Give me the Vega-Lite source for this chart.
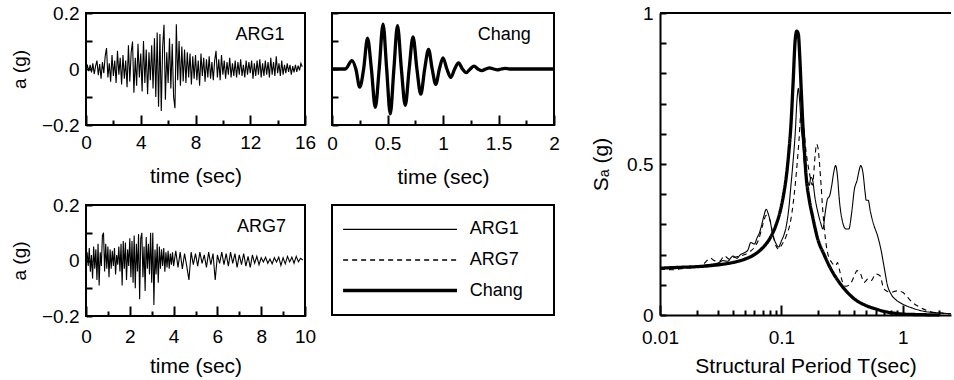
{
  "$schema": "https://vega.github.io/schema/vega-lite/v6.json",
  "autosize": {"type": "pad"},
  "padding": {"left": 10, "top": 4, "right": 0, "bottom": 0},
  "background": "white",
  "config": {
    "font": "Liberation Sans",
    "view": {"stroke": null, "strokeWidth": 0, "strokeOpacity": 0},
    "axis": {
      "grid": false,
      "domain": false,
      "labelFont": "Liberation Sans",
      "titleFont": "Liberation Sans",
      "labelFontSize": 19,
      "titleFontSize": 21,
      "titleFontWeight": "normal",
      "labelColor": "black",
      "titleColor": "black",
      "tickColor": "black",
      "tickWidth": 2,
      "labelFlush": false,
      "labelOverlap": false,
      "labelPadding": 13,
      "titlePadding": 8
    }
  },
  "datasets": {
    "arg1": [
      {"t":0.0,"a":0.000},{"t":0.1,"a":0.012},{"t":0.2,"a":-0.008},{"t":0.3,"a":0.015},{"t":0.4,"a":-0.012},{"t":0.5,"a":0.020},{"t":0.6,"a":-0.018},{"t":0.7,"a":0.010},{"t":0.8,"a":0.030},{"t":0.9,"a":-0.022},
      {"t":1.0,"a":0.018},{"t":1.1,"a":-0.035},{"t":1.2,"a":0.025},{"t":1.3,"a":-0.015},{"t":1.4,"a":0.045},{"t":1.5,"a":0.075},{"t":1.6,"a":-0.030},{"t":1.7,"a":0.020},{"t":1.8,"a":-0.045},{"t":1.9,"a":0.050},
      {"t":2.0,"a":-0.025},{"t":2.1,"a":0.030},{"t":2.2,"a":-0.050},{"t":2.3,"a":0.065},{"t":2.4,"a":-0.020},{"t":2.5,"a":0.040},{"t":2.6,"a":-0.055},{"t":2.7,"a":0.050},{"t":2.8,"a":-0.035},{"t":2.9,"a":0.030},
      {"t":3.0,"a":-0.065},{"t":3.1,"a":0.085},{"t":3.2,"a":-0.045},{"t":3.3,"a":0.060},{"t":3.4,"a":0.098},{"t":3.5,"a":-0.085},{"t":3.6,"a":0.040},{"t":3.7,"a":-0.060},{"t":3.8,"a":0.090},{"t":3.9,"a":-0.030},
      {"t":4.0,"a":0.055},{"t":4.1,"a":-0.080},{"t":4.2,"a":0.100},{"t":4.3,"a":-0.050},{"t":4.4,"a":0.070},{"t":4.5,"a":-0.090},{"t":4.6,"a":0.060},{"t":4.7,"a":-0.040},{"t":4.8,"a":0.085},{"t":4.9,"a":-0.070},
      {"t":5.0,"a":0.110},{"t":5.1,"a":-0.100},{"t":5.2,"a":0.130},{"t":5.3,"a":-0.135},{"t":5.4,"a":0.125},{"t":5.5,"a":-0.150},{"t":5.6,"a":0.080},{"t":5.7,"a":0.158},{"t":5.8,"a":-0.110},{"t":5.9,"a":0.060},
      {"t":6.0,"a":-0.050},{"t":6.1,"a":0.110},{"t":6.2,"a":-0.070},{"t":6.3,"a":0.090},{"t":6.4,"a":-0.100},{"t":6.5,"a":-0.140},{"t":6.6,"a":0.160},{"t":6.7,"a":-0.040},{"t":6.8,"a":0.100},{"t":6.9,"a":-0.060},
      {"t":7.0,"a":0.080},{"t":7.1,"a":-0.045},{"t":7.2,"a":0.070},{"t":7.3,"a":-0.050},{"t":7.4,"a":0.060},{"t":7.5,"a":-0.030},{"t":7.6,"a":0.055},{"t":7.7,"a":-0.055},{"t":7.8,"a":0.045},{"t":7.9,"a":-0.035},
      {"t":8.0,"a":0.050},{"t":8.1,"a":-0.040},{"t":8.2,"a":0.030},{"t":8.3,"a":-0.060},{"t":8.4,"a":0.055},{"t":8.5,"a":-0.025},{"t":8.6,"a":0.040},{"t":8.7,"a":-0.045},{"t":8.8,"a":0.035},{"t":8.9,"a":-0.030},
      {"t":9.0,"a":0.045},{"t":9.1,"a":-0.035},{"t":9.2,"a":0.025},{"t":9.3,"a":-0.040},{"t":9.4,"a":0.030},{"t":9.5,"a":0.065},{"t":9.6,"a":-0.030},{"t":9.7,"a":0.035},{"t":9.8,"a":-0.040},{"t":9.9,"a":0.050},
      {"t":10.0,"a":-0.020},{"t":10.1,"a":0.030},{"t":10.2,"a":-0.035},{"t":10.3,"a":0.025},{"t":10.4,"a":-0.020},{"t":10.5,"a":0.040},{"t":10.6,"a":-0.030},{"t":10.7,"a":0.020},{"t":10.8,"a":-0.025},{"t":10.9,"a":0.030},
      {"t":11.0,"a":-0.030},{"t":11.1,"a":0.025},{"t":11.2,"a":-0.020},{"t":11.3,"a":0.035},{"t":11.4,"a":-0.025},{"t":11.5,"a":0.015},{"t":11.6,"a":-0.030},{"t":11.7,"a":0.030},{"t":11.8,"a":-0.020},{"t":11.9,"a":0.025},
      {"t":12.0,"a":-0.015},{"t":12.1,"a":0.030},{"t":12.2,"a":-0.035},{"t":12.3,"a":0.020},{"t":12.4,"a":-0.025},{"t":12.5,"a":0.030},{"t":12.6,"a":-0.020},{"t":12.7,"a":0.035},{"t":12.8,"a":-0.030},{"t":12.9,"a":0.020},
      {"t":13.0,"a":-0.025},{"t":13.1,"a":0.030},{"t":13.2,"a":-0.020},{"t":13.3,"a":0.025},{"t":13.4,"a":-0.030},{"t":13.5,"a":0.040},{"t":13.6,"a":-0.020},{"t":13.7,"a":0.025},{"t":13.8,"a":-0.025},{"t":13.9,"a":0.045},
      {"t":14.0,"a":-0.015},{"t":14.1,"a":0.020},{"t":14.2,"a":-0.025},{"t":14.3,"a":0.030},{"t":14.4,"a":-0.020},{"t":14.5,"a":0.015},{"t":14.6,"a":-0.015},{"t":14.7,"a":0.020},{"t":14.8,"a":-0.010},{"t":14.9,"a":0.015},
      {"t":15.0,"a":-0.020},{"t":15.1,"a":0.010},{"t":15.2,"a":-0.012},{"t":15.3,"a":0.015},{"t":15.4,"a":-0.010},{"t":15.5,"a":0.012},{"t":15.6,"a":-0.005},{"t":15.7,"a":0.020},{"t":15.8,"a":0.008}
    ],
    "arg7": [
      {"t":0.00,"a":0.000},{"t":0.05,"a":0.030},{"t":0.10,"a":-0.020},{"t":0.15,"a":0.045},{"t":0.20,"a":-0.040},{"t":0.25,"a":0.020},{"t":0.30,"a":-0.065},{"t":0.35,"a":0.050},{"t":0.40,"a":-0.030},{"t":0.45,"a":0.040},
      {"t":0.50,"a":-0.070},{"t":0.55,"a":0.060},{"t":0.60,"a":-0.090},{"t":0.65,"a":0.030},{"t":0.70,"a":-0.020},{"t":0.75,"a":0.090},{"t":0.80,"a":0.100},{"t":0.85,"a":-0.040},{"t":0.90,"a":0.060},{"t":0.95,"a":-0.030},
      {"t":1.00,"a":0.050},{"t":1.05,"a":-0.060},{"t":1.10,"a":0.040},{"t":1.15,"a":-0.030},{"t":1.20,"a":0.035},{"t":1.25,"a":-0.020},{"t":1.30,"a":0.045},{"t":1.35,"a":-0.050},{"t":1.40,"a":0.020},{"t":1.45,"a":-0.015},
      {"t":1.50,"a":0.050},{"t":1.55,"a":-0.040},{"t":1.60,"a":0.060},{"t":1.65,"a":-0.090},{"t":1.70,"a":0.070},{"t":1.75,"a":-0.030},{"t":1.80,"a":0.065},{"t":1.85,"a":-0.070},{"t":1.90,"a":0.040},{"t":1.95,"a":-0.020},
      {"t":2.00,"a":0.080},{"t":2.05,"a":-0.060},{"t":2.10,"a":0.070},{"t":2.15,"a":-0.080},{"t":2.20,"a":0.090},{"t":2.25,"a":-0.100},{"t":2.30,"a":0.060},{"t":2.35,"a":-0.040},{"t":2.40,"a":0.095},{"t":2.45,"a":-0.140},
      {"t":2.50,"a":0.080},{"t":2.55,"a":0.100},{"t":2.60,"a":-0.060},{"t":2.65,"a":0.050},{"t":2.70,"a":-0.110},{"t":2.75,"a":0.085},{"t":2.80,"a":-0.030},{"t":2.85,"a":0.060},{"t":2.90,"a":-0.050},{"t":2.95,"a":0.100},
      {"t":3.00,"a":-0.080},{"t":3.05,"a":0.100},{"t":3.10,"a":-0.160},{"t":3.15,"a":0.040},{"t":3.20,"a":-0.050},{"t":3.25,"a":0.060},{"t":3.30,"a":-0.080},{"t":3.35,"a":0.050},{"t":3.40,"a":-0.030},{"t":3.45,"a":0.040},
      {"t":3.50,"a":-0.020},{"t":3.55,"a":0.045},{"t":3.60,"a":-0.040},{"t":3.65,"a":0.030},{"t":3.70,"a":-0.025},{"t":3.75,"a":0.035},{"t":3.80,"a":-0.030},{"t":3.85,"a":0.025},{"t":3.90,"a":-0.015},{"t":3.95,"a":0.030},
      {"t":4.0,"a":-0.020},{"t":4.1,"a":0.035},{"t":4.2,"a":-0.025},{"t":4.3,"a":0.030},{"t":4.4,"a":-0.030},{"t":4.5,"a":0.025},{"t":4.6,"a":-0.020},{"t":4.7,"a":-0.070},{"t":4.8,"a":0.030},{"t":4.9,"a":-0.015},
      {"t":5.0,"a":0.025},{"t":5.1,"a":-0.020},{"t":5.2,"a":0.030},{"t":5.3,"a":-0.010},{"t":5.4,"a":0.020},{"t":5.5,"a":-0.025},{"t":5.6,"a":0.030},{"t":5.7,"a":-0.015},{"t":5.8,"a":0.025},{"t":5.9,"a":-0.070},
      {"t":6.0,"a":0.020},{"t":6.1,"a":-0.010},{"t":6.2,"a":0.030},{"t":6.3,"a":-0.015},{"t":6.4,"a":0.025},{"t":6.5,"a":-0.020},{"t":6.6,"a":0.030},{"t":6.7,"a":-0.010},{"t":6.8,"a":0.025},{"t":6.9,"a":-0.025},
      {"t":7.0,"a":0.020},{"t":7.1,"a":-0.015},{"t":7.2,"a":0.025},{"t":7.3,"a":-0.020},{"t":7.4,"a":0.015},{"t":7.5,"a":-0.025},{"t":7.6,"a":0.020},{"t":7.7,"a":-0.010},{"t":7.8,"a":0.015},{"t":7.9,"a":-0.015},
      {"t":8.0,"a":0.010},{"t":8.1,"a":-0.005},{"t":8.2,"a":0.012},{"t":8.3,"a":-0.010},{"t":8.4,"a":0.005},{"t":8.5,"a":-0.012},{"t":8.6,"a":0.010},{"t":8.7,"a":-0.005},{"t":8.8,"a":0.012},{"t":8.9,"a":-0.018},
      {"t":9.0,"a":0.010},{"t":9.1,"a":-0.012},{"t":9.2,"a":0.015},{"t":9.3,"a":-0.005},{"t":9.4,"a":0.012},{"t":9.5,"a":-0.010},{"t":9.6,"a":0.015},{"t":9.7,"a":-0.005},{"t":9.8,"a":0.008},{"t":9.9,"a":0.002}
    ],
    "chang": [
      {"t":0,"a":0},{"t":0.12,"a":0},{"t":0.18,"a":0.03},{"t":0.215,"a":0},{"t":0.25,"a":-0.065},{"t":0.285,"a":0},{"t":0.32,"a":0.11},{"t":0.355,"a":0},
      {"t":0.39,"a":-0.137},{"t":0.425,"a":0},{"t":0.46,"a":0.16},{"t":0.4925,"a":0},{"t":0.525,"a":-0.16},{"t":0.5575,"a":0},{"t":0.59,"a":0.155},{"t":0.625,"a":0},
      {"t":0.66,"a":-0.13},{"t":0.695,"a":0},{"t":0.73,"a":0.115},{"t":0.765,"a":0},{"t":0.8,"a":-0.09},{"t":0.835,"a":0},{"t":0.87,"a":0.07},{"t":0.9025,"a":0},
      {"t":0.935,"a":-0.055},{"t":0.9675,"a":0},{"t":1.0,"a":0.04},{"t":1.035,"a":0},{"t":1.07,"a":-0.03},{"t":1.105,"a":0},{"t":1.14,"a":0.022},{"t":1.175,"a":0},
      {"t":1.21,"a":-0.013},{"t":1.245,"a":0},{"t":1.28,"a":0.01},{"t":1.315,"a":0},{"t":1.35,"a":-0.006},{"t":1.385,"a":0},{"t":1.42,"a":0.004},{"t":1.455,"a":0},
      {"t":1.49,"a":-0.003},{"t":1.525,"a":0},{"t":1.56,"a":0.002},{"t":1.6,"a":0},{"t":2,"a":0}
    ],
    "spectra": [
      {"series":"ARG1","T":0.01,"Sa":0.155},{"series":"ARG1","T":0.012,"Sa":0.156},{"series":"ARG1","T":0.015,"Sa":0.158},{"series":"ARG1","T":0.018,"Sa":0.157},{"series":"ARG1","T":0.02,"Sa":0.160},
      {"series":"ARG1","T":0.023,"Sa":0.165},{"series":"ARG1","T":0.026,"Sa":0.168},{"series":"ARG1","T":0.03,"Sa":0.172},{"series":"ARG1","T":0.033,"Sa":0.180},{"series":"ARG1","T":0.036,"Sa":0.178},
      {"series":"ARG1","T":0.04,"Sa":0.195},{"series":"ARG1","T":0.043,"Sa":0.188},{"series":"ARG1","T":0.046,"Sa":0.200},{"series":"ARG1","T":0.05,"Sa":0.207},{"series":"ARG1","T":0.053,"Sa":0.215},
      {"series":"ARG1","T":0.056,"Sa":0.240},{"series":"ARG1","T":0.06,"Sa":0.235},{"series":"ARG1","T":0.063,"Sa":0.255},{"series":"ARG1","T":0.066,"Sa":0.272},{"series":"ARG1","T":0.069,"Sa":0.300},
      {"series":"ARG1","T":0.072,"Sa":0.330},{"series":"ARG1","T":0.075,"Sa":0.350},{"series":"ARG1","T":0.078,"Sa":0.335},{"series":"ARG1","T":0.081,"Sa":0.310},{"series":"ARG1","T":0.085,"Sa":0.265},
      {"series":"ARG1","T":0.09,"Sa":0.238},{"series":"ARG1","T":0.095,"Sa":0.225},{"series":"ARG1","T":0.1,"Sa":0.245},{"series":"ARG1","T":0.105,"Sa":0.265},{"series":"ARG1","T":0.11,"Sa":0.296},
      {"series":"ARG1","T":0.115,"Sa":0.350},{"series":"ARG1","T":0.12,"Sa":0.430},{"series":"ARG1","T":0.125,"Sa":0.510},{"series":"ARG1","T":0.13,"Sa":0.600},{"series":"ARG1","T":0.135,"Sa":0.720},
      {"series":"ARG1","T":0.138,"Sa":0.750},{"series":"ARG1","T":0.142,"Sa":0.700},{"series":"ARG1","T":0.146,"Sa":0.620},{"series":"ARG1","T":0.15,"Sa":0.570},{"series":"ARG1","T":0.155,"Sa":0.500},
      {"series":"ARG1","T":0.16,"Sa":0.450},{"series":"ARG1","T":0.165,"Sa":0.440},{"series":"ARG1","T":0.17,"Sa":0.430},{"series":"ARG1","T":0.175,"Sa":0.456},{"series":"ARG1","T":0.18,"Sa":0.450},
      {"series":"ARG1","T":0.19,"Sa":0.384},{"series":"ARG1","T":0.2,"Sa":0.340},{"series":"ARG1","T":0.21,"Sa":0.307},{"series":"ARG1","T":0.22,"Sa":0.285},{"series":"ARG1","T":0.23,"Sa":0.340},
      {"series":"ARG1","T":0.24,"Sa":0.384},{"series":"ARG1","T":0.25,"Sa":0.395},{"series":"ARG1","T":0.26,"Sa":0.428},{"series":"ARG1","T":0.27,"Sa":0.472},{"series":"ARG1","T":0.28,"Sa":0.495},
      {"series":"ARG1","T":0.29,"Sa":0.460},{"series":"ARG1","T":0.3,"Sa":0.384},{"series":"ARG1","T":0.32,"Sa":0.307},{"series":"ARG1","T":0.34,"Sa":0.285},{"series":"ARG1","T":0.36,"Sa":0.285},
      {"series":"ARG1","T":0.38,"Sa":0.340},{"series":"ARG1","T":0.4,"Sa":0.417},{"series":"ARG1","T":0.42,"Sa":0.445},{"series":"ARG1","T":0.44,"Sa":0.483},{"series":"ARG1","T":0.45,"Sa":0.495},
      {"series":"ARG1","T":0.47,"Sa":0.472},{"series":"ARG1","T":0.49,"Sa":0.406},{"series":"ARG1","T":0.5,"Sa":0.380},{"series":"ARG1","T":0.52,"Sa":0.380},{"series":"ARG1","T":0.54,"Sa":0.345},
      {"series":"ARG1","T":0.58,"Sa":0.296},{"series":"ARG1","T":0.62,"Sa":0.263},{"series":"ARG1","T":0.66,"Sa":0.219},{"series":"ARG1","T":0.7,"Sa":0.163},{"series":"ARG1","T":0.75,"Sa":0.097},
      {"series":"ARG1","T":0.8,"Sa":0.070},{"series":"ARG1","T":0.9,"Sa":0.047},{"series":"ARG1","T":1.0,"Sa":0.036},{"series":"ARG1","T":1.2,"Sa":0.023},{"series":"ARG1","T":1.5,"Sa":0.012},
      {"series":"ARG1","T":2.0,"Sa":0.007},{"series":"ARG1","T":2.5,"Sa":0.004},
      {"series":"ARG7","T":0.01,"Sa":0.152},{"series":"ARG7","T":0.013,"Sa":0.150},{"series":"ARG7","T":0.016,"Sa":0.155},{"series":"ARG7","T":0.02,"Sa":0.160},{"series":"ARG7","T":0.023,"Sa":0.170},
      {"series":"ARG7","T":0.026,"Sa":0.188},{"series":"ARG7","T":0.028,"Sa":0.180},{"series":"ARG7","T":0.031,"Sa":0.178},{"series":"ARG7","T":0.034,"Sa":0.196},{"series":"ARG7","T":0.037,"Sa":0.185},
      {"series":"ARG7","T":0.04,"Sa":0.190},{"series":"ARG7","T":0.045,"Sa":0.195},{"series":"ARG7","T":0.05,"Sa":0.200},{"series":"ARG7","T":0.055,"Sa":0.210},{"series":"ARG7","T":0.06,"Sa":0.224},
      {"series":"ARG7","T":0.065,"Sa":0.250},{"series":"ARG7","T":0.07,"Sa":0.296},{"series":"ARG7","T":0.075,"Sa":0.330},{"series":"ARG7","T":0.08,"Sa":0.318},{"series":"ARG7","T":0.085,"Sa":0.270},
      {"series":"ARG7","T":0.09,"Sa":0.230},{"series":"ARG7","T":0.095,"Sa":0.218},{"series":"ARG7","T":0.1,"Sa":0.230},{"series":"ARG7","T":0.11,"Sa":0.263},{"series":"ARG7","T":0.12,"Sa":0.318},
      {"series":"ARG7","T":0.13,"Sa":0.430},{"series":"ARG7","T":0.14,"Sa":0.583},{"series":"ARG7","T":0.145,"Sa":0.670},{"series":"ARG7","T":0.15,"Sa":0.650},{"series":"ARG7","T":0.16,"Sa":0.540},
      {"series":"ARG7","T":0.17,"Sa":0.472},{"series":"ARG7","T":0.18,"Sa":0.430},{"series":"ARG7","T":0.19,"Sa":0.530},{"series":"ARG7","T":0.195,"Sa":0.566},{"series":"ARG7","T":0.2,"Sa":0.555},
      {"series":"ARG7","T":0.21,"Sa":0.460},{"series":"ARG7","T":0.22,"Sa":0.340},{"series":"ARG7","T":0.24,"Sa":0.207},{"series":"ARG7","T":0.26,"Sa":0.174},{"series":"ARG7","T":0.28,"Sa":0.163},
      {"series":"ARG7","T":0.29,"Sa":0.174},{"series":"ARG7","T":0.3,"Sa":0.152},{"series":"ARG7","T":0.32,"Sa":0.108},{"series":"ARG7","T":0.34,"Sa":0.095},{"series":"ARG7","T":0.37,"Sa":0.103},
      {"series":"ARG7","T":0.4,"Sa":0.130},{"series":"ARG7","T":0.42,"Sa":0.147},{"series":"ARG7","T":0.45,"Sa":0.136},{"series":"ARG7","T":0.48,"Sa":0.108},{"series":"ARG7","T":0.52,"Sa":0.120},
      {"series":"ARG7","T":0.55,"Sa":0.114},{"series":"ARG7","T":0.6,"Sa":0.136},{"series":"ARG7","T":0.65,"Sa":0.130},{"series":"ARG7","T":0.7,"Sa":0.086},{"series":"ARG7","T":0.8,"Sa":0.075},
      {"series":"ARG7","T":0.9,"Sa":0.080},{"series":"ARG7","T":1.0,"Sa":0.075},{"series":"ARG7","T":1.1,"Sa":0.058},{"series":"ARG7","T":1.2,"Sa":0.042},{"series":"ARG7","T":1.4,"Sa":0.025},
      {"series":"ARG7","T":1.7,"Sa":0.011},{"series":"ARG7","T":2.0,"Sa":0.007},{"series":"ARG7","T":2.5,"Sa":0.004},
      {"series":"Chang","T":0.01,"Sa":0.155},{"series":"Chang","T":0.015,"Sa":0.158},{"series":"Chang","T":0.02,"Sa":0.160},{"series":"Chang","T":0.03,"Sa":0.166},{"series":"Chang","T":0.04,"Sa":0.174},
      {"series":"Chang","T":0.05,"Sa":0.185},{"series":"Chang","T":0.06,"Sa":0.200},{"series":"Chang","T":0.07,"Sa":0.222},{"series":"Chang","T":0.08,"Sa":0.252},{"series":"Chang","T":0.09,"Sa":0.296},
      {"series":"Chang","T":0.1,"Sa":0.360},{"series":"Chang","T":0.105,"Sa":0.405},{"series":"Chang","T":0.11,"Sa":0.460},{"series":"Chang","T":0.115,"Sa":0.535},{"series":"Chang","T":0.12,"Sa":0.630},
      {"series":"Chang","T":0.125,"Sa":0.770},{"series":"Chang","T":0.13,"Sa":0.910},{"series":"Chang","T":0.134,"Sa":0.940},{"series":"Chang","T":0.138,"Sa":0.930},{"series":"Chang","T":0.142,"Sa":0.850},
      {"series":"Chang","T":0.146,"Sa":0.740},{"series":"Chang","T":0.15,"Sa":0.640},{"series":"Chang","T":0.155,"Sa":0.540},{"series":"Chang","T":0.16,"Sa":0.460},{"series":"Chang","T":0.17,"Sa":0.380},
      {"series":"Chang","T":0.18,"Sa":0.330},{"series":"Chang","T":0.2,"Sa":0.250},{"series":"Chang","T":0.225,"Sa":0.200},{"series":"Chang","T":0.25,"Sa":0.160},{"series":"Chang","T":0.3,"Sa":0.108},
      {"series":"Chang","T":0.35,"Sa":0.075},{"series":"Chang","T":0.4,"Sa":0.053},{"series":"Chang","T":0.5,"Sa":0.031},{"series":"Chang","T":0.6,"Sa":0.020},{"series":"Chang","T":0.7,"Sa":0.012},
      {"series":"Chang","T":0.85,"Sa":0.006},{"series":"Chang","T":1.0,"Sa":0.003},{"series":"Chang","T":1.5,"Sa":0.001},{"series":"Chang","T":2.0,"Sa":0.000}
    ],
    "records": [{"series":"ARG1"},{"series":"ARG7"},{"series":"Chang"}]
  },
  "hconcat": [
    {
      "concat": [
        {
          "width": 219, "height": 112,
          "layer": [
            {
              "data": {"name": "arg1"},
              "mark": {"type": "line", "color": "black", "strokeWidth": 1.1},
              "encoding": {
                "x": {"field": "t", "type": "quantitative", "scale": {"domain": [0, 16], "nice": false},
                  "axis": {"title": "time (sec)", "titleFontWeight": "normal", "titleFontSize": 21, "values": [0,2,4,6,8,10,12,14,16], "tickCount": 100, "format": "~r",
                    "labelPadding": 18, "labelOverlap": false,
                    "labelExpr": "datum.value % 4 === 0 ? datum.label : ''",
                    "tickSize": {"condition": {"test": "datum.value % 4 === 0", "value": -10}, "value": -5}}},
                "y": {"field": "a", "type": "quantitative", "scale": {"domain": [-0.2, 0.2], "nice": false},
                  "axis": {"title": "a (g)", "titleFontWeight": "normal", "titleFontSize": 19, "titlePadding": 12, "values": [-0.2,-0.1,0,0.1,0.2], "tickCount": 100, "format": "~r",
                    "labelOverlap": false,
                    "labelExpr": "abs(datum.value) > 0.15 || abs(datum.value) < 0.01 ? datum.label : ''", "tickSize": -6}}
              }
            },
            {
              "data": {"values": [{"label": "ARG1"}]},
              "mark": {"type": "text", "align": "right", "baseline": "middle", "fontSize": 18},
              "encoding": {
                "x": {"datum": 14.5, "type": "quantitative"},
                "y": {"datum": 0.12, "type": "quantitative"},
                "text": {"field": "label"}
              }
            },
            {
              "data": {"values": [{"panel": "ARG1"}]},
              "mark": {"type": "rect", "filled": false, "color": "black", "strokeWidth": 2},
              "encoding": {
                "x": {"datum": 0, "type": "quantitative"},
                "x2": {"datum": 16},
                "y": {"datum": -0.2, "type": "quantitative"},
                "y2": {"datum": 0.2}
              }
            }
          ]
        },
        {
          "width": 222, "height": 112,
          "layer": [
            {
              "data": {"name": "chang"},
              "mark": {"type": "line", "color": "black", "strokeWidth": 3.3, "interpolate": "monotone"},
              "encoding": {
                "x": {"field": "t", "type": "quantitative", "scale": {"domain": [0, 2], "nice": false},
                  "axis": {"title": "time (sec)", "titleFontWeight": "normal", "titleFontSize": 21, "values": [0,0.25,0.5,0.75,1,1.25,1.5,1.75,2], "tickCount": 100, "format": "~r",
                    "labelPadding": 19, "labelOverlap": false,
                    "labelExpr": "(datum.value * 2) % 1 === 0 ? datum.label : ''",
                    "tickSize": {"condition": {"test": "(datum.value * 2) % 1 === 0", "value": -10}, "value": -5}}},
                "y": {"field": "a", "type": "quantitative", "scale": {"domain": [-0.2, 0.2], "nice": false},
                  "axis": {"title": null, "labels": false, "values": [-0.2,-0.1,0,0.1,0.2], "tickCount": 100, "tickSize": -6}}
              }
            },
            {
              "data": {"values": [{"label": "Chang"}]},
              "mark": {"type": "text", "align": "right", "baseline": "middle", "fontSize": 18},
              "encoding": {
                "x": {"datum": 1.79, "type": "quantitative"},
                "y": {"datum": 0.12, "type": "quantitative"},
                "text": {"field": "label"}
              }
            },
            {
              "data": {"values": [{"panel": "Chang"}]},
              "mark": {"type": "rect", "filled": false, "color": "black", "strokeWidth": 2},
              "encoding": {
                "x": {"datum": 0, "type": "quantitative"},
                "x2": {"datum": 2},
                "y": {"datum": -0.2, "type": "quantitative"},
                "y2": {"datum": 0.2}
              }
            }
          ]
        },
        {
          "width": 219, "height": 111,
          "layer": [
            {
              "data": {"name": "arg7"},
              "mark": {"type": "line", "color": "black", "strokeWidth": 1.1},
              "encoding": {
                "x": {"field": "t", "type": "quantitative", "scale": {"domain": [0, 10], "nice": false},
                  "axis": {"title": "time (sec)", "titleFontWeight": "normal", "titleFontSize": 21, "values": [0,1,2,3,4,5,6,7,8,9,10], "tickCount": 100, "format": "~r",
                    "labelPadding": 21.5, "titlePadding": 4, "labelOverlap": false,
                    "labelExpr": "datum.value % 2 === 0 ? datum.label : ''",
                    "tickSize": {"condition": {"test": "datum.value % 2 === 0", "value": -10}, "value": -5}}},
                "y": {"field": "a", "type": "quantitative", "scale": {"domain": [-0.2, 0.2], "nice": false},
                  "axis": {"title": "a (g)", "titleFontWeight": "normal", "titleFontSize": 19, "titlePadding": 12, "values": [-0.2,-0.1,0,0.1,0.2], "tickCount": 100, "format": "~r",
                    "labelOverlap": false,
                    "labelExpr": "abs(datum.value) > 0.15 || abs(datum.value) < 0.01 ? datum.label : ''", "tickSize": -6}}
              }
            },
            {
              "data": {"values": [{"label": "ARG7"}]},
              "mark": {"type": "text", "align": "right", "baseline": "middle", "fontSize": 18},
              "encoding": {
                "x": {"datum": 9.13, "type": "quantitative"},
                "y": {"datum": 0.12, "type": "quantitative"},
                "text": {"field": "label"}
              }
            },
            {
              "data": {"values": [{"panel": "ARG7"}]},
              "mark": {"type": "rect", "filled": false, "color": "black", "strokeWidth": 2},
              "encoding": {
                "x": {"datum": 0, "type": "quantitative"},
                "x2": {"datum": 10},
                "y": {"datum": -0.2, "type": "quantitative"},
                "y2": {"datum": 0.2}
              }
            }
          ]
        },
        {
          "width": 222, "height": 110,
          "layer": [
            {
              "data": {"name": "records"},
              "mark": {"type": "rule", "color": "black"},
              "encoding": {
                "y": {"field": "series", "type": "nominal", "scale": {"type": "point", "padding": 0.8, "domain": ["ARG1","ARG7","Chang"]}, "axis": null},
                "x": {"datum": 0.05, "type": "quantitative", "scale": {"domain": [0, 1], "nice": false}, "axis": null},
                "x2": {"datum": 0.563},
                "strokeDash": {"field": "series", "type": "nominal", "scale": {"domain": ["ARG1","ARG7","Chang"], "range": [[1,0],[5,4],[1,0]]}, "legend": null},
                "strokeWidth": {"condition": {"test": "datum.series === 'Chang'", "value": 3.5}, "value": 1.3}
              }
            },
            {
              "data": {"name": "records"},
              "mark": {"type": "text", "align": "left", "baseline": "middle", "fontSize": 18},
              "encoding": {
                "y": {"field": "series", "type": "nominal", "axis": null},
                "x": {"datum": 0.62, "type": "quantitative", "axis": null},
                "text": {"field": "series"}
              }
            },
            {
              "data": {"values": [{"panel": "key"}]},
              "mark": {"type": "rect", "filled": false, "color": "black", "strokeWidth": 2},
              "encoding": {
                "x": {"datum": 0, "type": "quantitative", "axis": null},
                "x2": {"datum": 1}
              }
            }
          ]
        }
      ],
      "columns": 2,
      "align": "each",
      "spacing": {"row": 80, "column": 27},
      "bounds": "flush"
    },
    {
      "width": 291, "height": 302,
      "view": {"stroke": null, "strokeWidth": 0, "strokeOpacity": 0},
      "resolve": {"axis": {"x": "independent", "y": "independent"}},
      "layer": [
        {
          "data": {"name": "spectra"},
          "mark": {"type": "line", "color": "black", "interpolate": "monotone"},
          "encoding": {
            "x": {"field": "T", "type": "quantitative", "scale": {"type": "log", "domain": [0.01, 2.5], "nice": false},
              "axis": {"title": "Structural Period T(sec)", "orient": "bottom", "titleFontWeight": "normal", "titleFontSize": 21, "domain": true, "domainWidth": 2, "domainColor": "black",
                "values": [0.01,0.02,0.03,0.04,0.05,0.06,0.07,0.08,0.09,0.1,0.2,0.3,0.4,0.5,0.6,0.7,0.8,0.9,1,2], "tickCount": 100, "format": "~r",
                "labelPadding": 23.5, "titlePadding": 3, "labelOverlap": false,
                "labelExpr": "datum.value === 0.01 || datum.value === 0.1 || datum.value === 1 ? datum.label : ''",
                "tickSize": {"condition": {"test": "datum.value === 0.01 || datum.value === 0.1 || datum.value === 1", "value": -10}, "value": -5}}},
            "y": {"field": "Sa", "type": "quantitative", "scale": {"domain": [0, 1], "nice": false},
              "axis": {"title": "Sₐ (g)", "orient": "left", "titleFontWeight": "normal", "titleFontSize": 21, "titlePadding": 15, "domain": true, "domainWidth": 2, "domainColor": "black",
                "values": [0,0.1,0.2,0.3,0.4,0.5,0.6,0.7,0.8,0.9,1], "tickCount": 100, "format": "~r", "labelOverlap": false,
                "labelExpr": "abs(datum.value - 0.5) < 0.01 || datum.value < 0.01 || datum.value > 0.99 ? datum.label : ''", "tickSize": -6}},
            "strokeDash": {"field": "series", "type": "nominal", "scale": {"domain": ["ARG1","ARG7","Chang"], "range": [[1,0],[5,4],[1,0]]}, "legend": null},
            "strokeWidth": {"condition": {"test": "datum.series === 'Chang'", "value": 3.3}, "value": 1.1}
          }
        },
        {
          "data": {"values": [{"edge": "top"}]},
          "mark": {"type": "rule", "color": "black", "strokeWidth": 2},
          "encoding": {"y": {"datum": 1, "type": "quantitative", "axis": null}}
        }
      ]
    }
  ],
  "spacing": 29
}
